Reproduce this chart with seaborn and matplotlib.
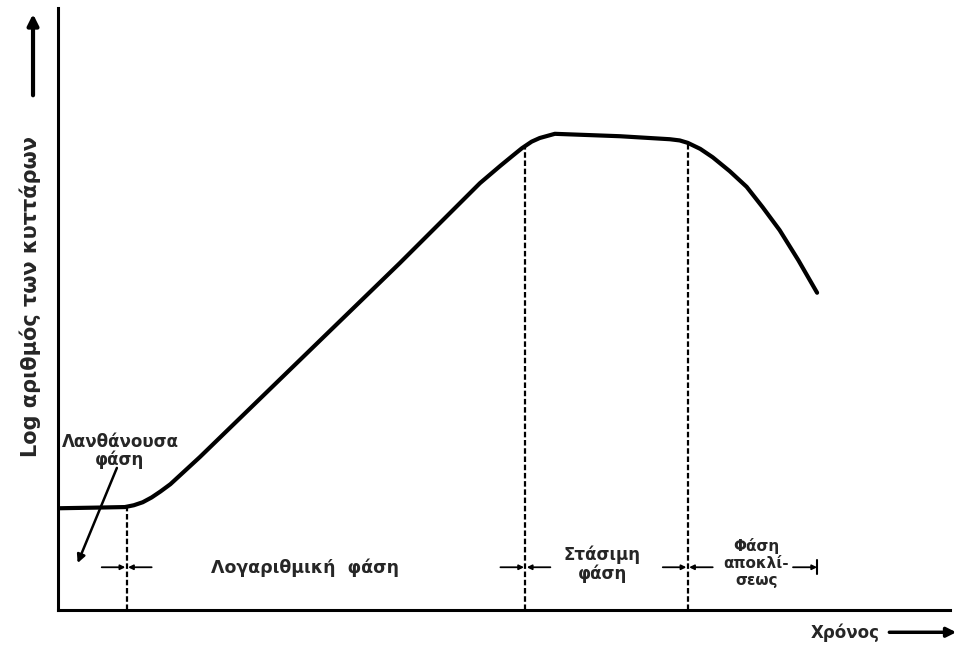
import numpy as np
import pandas as pd
import matplotlib
matplotlib.use('Agg')
import matplotlib.pyplot as plt
import seaborn as sns

# growth curve (time, log cell count), axes 0..100
time = [0, 4, 7.5, 8.5, 9.5, 10.5, 11.5, 12.6, 13.7, 15.9, 27.1, 38.3, 47.3, 49.6,
        51.0, 52.0, 53.1, 54.0, 55.7, 63.0, 68.6, 69.7, 70.6, 72.0, 73.4, 75.3,
        77.2, 79.0, 80.9, 83.0, 85.1]
log_count = [16.9, 17.0, 17.1, 17.4, 17.9, 18.7, 19.7, 20.9, 22.4, 25.4, 41.5, 57.6,
             70.9, 73.8, 75.5, 76.7, 77.8, 78.4, 79.1, 78.7, 78.2, 78.0, 77.6,
             76.6, 75.2, 72.9, 70.3, 66.9, 63.1, 58.1, 52.7]

# phase boundaries (time) and where the dashed guide meets the curve
boundaries = [7.7, 52.4, 70.6]
boundary_tops = [17.1, 77.1, 77.6]
end_of_decline = 85.1

phase_labels = ["Λογαριθμική  φάση", "Στάσιμη\nφάση", "Φάση\nαποκλί-\nσεως"]
phase_x = [27.7, 61.0, 78.3]
phase_y = [7.0, 7.6, 7.8]
phase_size = [12.5, 12, 11]
phase_spacing = [1.0, 1.1, 1.2]

lag_label = "Λανθάνουσα\nφάση"
y_label = "Log αριθμός των κυττάρων"
x_label = "Χρόνος"

df = pd.DataFrame({"time": time, "log_count": log_count})

sns.set_style("white")
plt.rcParams['font.family'] = ['DejaVu Sans']

fig = plt.figure(figsize=(9.56, 6.45), dpi=100)
ax = fig.add_axes([58 / 956, 35 / 645, 892 / 956, 602 / 645])

sns.lineplot(data=df, x="time", y="log_count", sort=False, color="black",
             linewidth=3, ax=ax)

ax.set_xlim(0, 100)
ax.set_ylim(0, 100)
ax.set_xticks([])
ax.set_yticks([])
ax.set_xlabel("")
ax.set_ylabel("")
for side in ["top", "right"]:
    ax.spines[side].set_visible(False)
for side in ["left", "bottom"]:
    ax.spines[side].set_color("black")
    ax.spines[side].set_linewidth(2.2)

# dashed phase boundaries
for b, top in zip(boundaries, boundary_tops):
    ax.plot([b, b], [0, top], color="black", lw=1.6, ls=(0, (2.5, 1.2)))

# →|← marks on each boundary
arrow_y = 7.1
ap = dict(arrowstyle="-|>", color="black", lw=1.3, mutation_scale=7,
          shrinkA=0, shrinkB=1)
for b in boundaries:
    ax.annotate("", xy=(b, arrow_y), xytext=(b - 2.8, arrow_y), arrowprops=ap)
    ax.annotate("", xy=(b, arrow_y), xytext=(b + 2.8, arrow_y), arrowprops=ap)
ax.annotate("", xy=(end_of_decline, arrow_y), xytext=(end_of_decline - 2.7, arrow_y),
            arrowprops=dict(arrowstyle="-|>", color="black", lw=1.3,
                            mutation_scale=7, shrinkA=0, shrinkB=0))
ax.plot([end_of_decline, end_of_decline], [arrow_y - 1.2, arrow_y + 1.2],
        color="black", lw=1.5)

# phase labels
for lab, x, y, fs, sp in zip(phase_labels, phase_x, phase_y, phase_size, phase_spacing):
    ax.text(x, y, lab, ha="center", va="center", fontsize=fs,
            fontweight="bold", linespacing=sp)

ax.text(6.95, 26.4, lag_label, ha="center", va="center", fontsize=12,
        fontweight="bold", linespacing=1.0)
ax.annotate("", xy=(2.2, 7.8), xytext=(6.6, 23.6),
            arrowprops=dict(arrowstyle="-|>", color="black", lw=1.8,
                            mutation_scale=12, shrinkA=0, shrinkB=0))

# axis titles with arrows
ax.text(-0.031, 0.52, y_label, transform=ax.transAxes, rotation=90,
        ha="center", va="center", fontsize=15, fontweight="bold")
ax.annotate("", xy=(-0.028, 0.99), xytext=(-0.028, 0.855),
            xycoords="axes fraction", textcoords="axes fraction",
            arrowprops=dict(arrowstyle="-|>", color="black", lw=3,
                            mutation_scale=16, shrinkA=0, shrinkB=0),
            annotation_clip=False)

ax.text(0.882, -0.037, x_label, transform=ax.transAxes, ha="center",
        va="center", fontsize=12, fontweight="bold")
ax.annotate("", xy=(1.007, -0.037), xytext=(0.932, -0.037),
            xycoords="axes fraction", textcoords="axes fraction",
            arrowprops=dict(arrowstyle="-|>", color="black", lw=2.5,
                            mutation_scale=14, shrinkA=0, shrinkB=0),
            annotation_clip=False)

fig.savefig("out.png", dpi=100, facecolor="white")
